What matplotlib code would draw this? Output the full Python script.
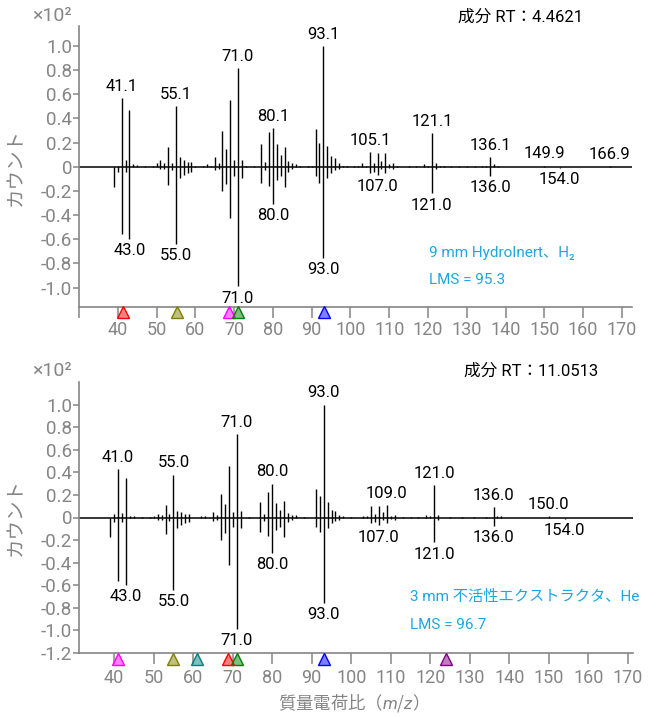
import matplotlib
matplotlib.use("Agg")
import matplotlib.pyplot as plt
import numpy as np
from matplotlib.transforms import offset_copy

plt.rcParams['font.family'] = ['Roboto', 'Noto Sans CJK JP', 'DejaVu Sans']
plt.rcParams['mathtext.fontset'] = 'custom'
plt.rcParams['mathtext.rm'] = 'Noto Sans CJK JP'
plt.rcParams['mathtext.it'] = 'Roboto:italic'

# sample spectrum, 9 mm HydroInert / H2 (x10^2 counts)
mz_top = [40, 41, 42, 43, 44, 45, 47, 49, 50, 51, 52, 53, 54, 55, 56, 57, 58, 59, 60,
          62, 63, 64, 65, 66, 67, 68, 69, 70, 71, 72, 73, 75, 77, 78, 79, 80, 81, 82,
          83, 84, 85, 86, 87, 89, 90, 91, 92, 93, 94, 95, 96, 97, 98, 99, 101, 102,
          103, 104, 105, 106, 107, 108, 109, 110, 111, 112, 115, 117, 119, 120, 121,
          122, 123, 124, 126, 128, 130, 132, 134, 135, 136, 137, 138, 150, 167]
int_top = [0.01, 0.57, 0.06, 0.47, 0.02, 0.015, 0.005, 0.005, 0.03, 0.06, 0.03, 0.16,
           0.03, 0.50, 0.08, 0.06, 0.04, 0.04, 0.005, 0.01, 0.02, 0.005, 0.08, 0.03,
           0.30, 0.15, 0.55, 0.06, 0.82, 0.06, 0.005, 0.005, 0.19, 0.04, 0.29, 0.32,
           0.19, 0.10, 0.16, 0.05, 0.03, 0.02, 0.005, 0.005, 0.005, 0.31, 0.20, 1.00,
           0.17, 0.09, 0.07, 0.03, 0.01, 0.005, 0.005, 0.01, 0.03, 0.01, 0.12, 0.03,
           0.115, 0.05, 0.115, 0.02, 0.03, 0.005, 0.005, 0.005, 0.02, 0.01, 0.28,
           0.03, 0.01, 0.005, 0.005, 0.005, 0.005, 0.005, 0.005, 0.01, 0.077, 0.02,
           0.01, 0.01, 0.005]

# sample spectrum, 3 mm inert extractor / He
mz_bot = [40, 41, 42, 43, 44, 45, 47, 49, 50, 51, 52, 53, 54, 55, 56, 57, 58, 59, 62,
          63, 65, 66, 67, 68, 69, 70, 71, 72, 74, 77, 78, 79, 80, 81, 82, 83, 84, 85,
          86, 88, 91, 92, 93, 94, 95, 96, 97, 98, 100, 103, 104, 105, 106, 107, 108,
          109, 110, 111, 113, 115, 117, 119, 120, 121, 122, 125, 128, 131, 134, 136,
          137, 138, 150]
int_bot = [0.03, 0.43, 0.04, 0.35, 0.015, 0.01, 0.005, 0.005, 0.01, 0.03, 0.02, 0.11,
           0.03, 0.38, 0.06, 0.05, 0.03, 0.03, 0.01, 0.01, 0.05, 0.02, 0.21, 0.12,
           0.455, 0.05, 0.74, 0.055, 0.005, 0.135, 0.03, 0.23, 0.30, 0.13, 0.07, 0.145,
           0.04, 0.02, 0.02, 0.005, 0.25, 0.19, 1.00, 0.14, 0.07, 0.06, 0.02, 0.01,
           0.005, 0.01, 0.01, 0.10, 0.03, 0.10, 0.05, 0.11, 0.01, 0.02, 0.005, 0.005,
           0.005, 0.02, 0.01, 0.29, 0.02, 0.005, 0.005, 0.005, 0.005, 0.09, 0.01,
           0.01, 0.01]

# library spectrum (drawn downwards in both panels)
mz_lib = [39, 40, 41, 42, 43, 51, 52, 53, 54, 55, 56, 57, 58, 59, 65, 66, 67, 68, 69,
          70, 71, 72, 77, 78, 79, 80, 81, 82, 83, 84, 85, 91, 92, 93, 94, 95, 96, 97,
          105, 106, 107, 108, 109, 110, 111, 121, 122, 136, 154]
int_lib = [0.17, 0.04, 0.56, 0.04, 0.60, 0.02, 0.02, 0.15, 0.03, 0.64, 0.09, 0.07,
           0.05, 0.04, 0.03, 0.02, 0.20, 0.14, 0.42, 0.08, 0.99, 0.09, 0.13, 0.03,
           0.16, 0.31, 0.11, 0.08, 0.17, 0.04, 0.02, 0.08, 0.13, 0.755, 0.09, 0.05,
           0.03, 0.02, 0.05, 0.04, 0.07, 0.02, 0.05, 0.01, 0.02, 0.22, 0.02, 0.075,
           0.01]

labels_top = ['41.1', '55.1', '71.0', '80.1', '93.1', '105.1', '121.1', '136.1', '149.9', '166.9']
labels_bot = ['41.0', '55.0', '71.0', '80.0', '93.0', '109.0', '121.0', '136.0', '150.0']
labels_lib = ['43.0', '55.0', '71.0', '80.0', '93.0', '107.0', '121.0', '136.0', '154.0']

markers_top = [41.3, 55.3, 68.8, 71.0, 93.3]
mcolors_top = ['red', 'olive', 'magenta', 'green', 'blue']
markers_bot = [41.0, 55.0, 61.0, 68.8, 71.0, 93.0, 124.0]
mcolors_bot = ['magenta', 'olive', 'teal', 'red', 'green', 'blue', 'purple']

GRAY = '#858585'
BLUE = '#1ea5e3'
FS = 12

fig = plt.figure(figsize=(6.59, 7.17), dpi=100)


def draw_panel(ax, mz, inten, labels, mk, mk_colors, xlim, ylim, yticks, xticks, xpad):
    ax.vlines(mz, 0, inten, colors='black', lw=1.0)
    ax.vlines(mz_lib, 0, -np.array(int_lib), colors='black', lw=1.0)
    ax.axhline(0, color='black', lw=1.1)

    up = dict(zip(mz, inten))
    down = dict(zip(mz_lib, int_lib))
    for lab in labels:
        m = float(lab)
        ax.annotate(lab, (m, up.get(round(m), 0)), xytext=(0, 3), textcoords='offset points',
                    ha='center', va='bottom', fontsize=FS)
    for lab in labels_lib:
        m = float(lab)
        ax.annotate(lab, (m, -down.get(round(m), 0)), xytext=(0, -3), textcoords='offset points',
                    ha='center', va='top', fontsize=FS)

    # component markers just under the x axis
    tr = offset_copy(ax.get_xaxis_transform(), fig=fig, y=-5.5, units='dots')
    for m, c in zip(mk, mk_colors):
        ax.plot([m], [0], marker='^', ms=8, color=c, alpha=0.5, mec='none',
                transform=tr, clip_on=False, zorder=5)
        ax.plot([m], [0], marker='^', ms=8, mfc='none', mec=c, mew=1,
                transform=tr, clip_on=False, zorder=6)

    ax.set_xlim(*xlim)
    ax.set_ylim(*ylim)
    ax.set_xticks(xticks)
    ax.set_xticklabels(['' if t < 40 else str(t) for t in xticks])
    ax.set_yticks(yticks)
    ax.set_yticklabels(['0' if abs(t) < 1e-9 else f'{t:.1f}' for t in yticks])
    for s in ['top', 'right']:
        ax.spines[s].set_visible(False)
    for s in ['left', 'bottom']:
        ax.spines[s].set_color(GRAY)
        ax.spines[s].set_linewidth(1.2)
    ax.tick_params(axis='x', direction='out', length=8, width=1.1, color=GRAY,
                   labelcolor=GRAY, labelsize=13, pad=xpad)
    ax.tick_params(axis='y', direction='out', length=4, width=1.1, color=GRAY,
                   labelcolor=GRAY, labelsize=13.5, pad=1)
    ax.set_ylabel('カウント', color=GRAY, fontsize=14)
    ax.yaxis.set_label_coords(-0.098, 0.5)


ax1 = fig.add_axes([79 / 659, 1 - 307 / 717, 553 / 659, 281 / 717])
draw_panel(ax1, mz_top, int_top, labels_top, markers_top, mcolors_top,
           (30, 172.6), (-1.16, 1.165), np.round(np.arange(-1.0, 1.01, 0.2), 1),
           list(range(30, 171, 10)), 2)

ax2 = fig.add_axes([79 / 659, 1 - 653 / 717, 554 / 659, 271 / 717])
draw_panel(ax2, mz_bot, int_bot, labels_bot, markers_bot, mcolors_bot,
           (31.1, 171.3), (-1.2, 1.2), np.round(np.arange(-1.2, 1.01, 0.2), 1),
           list(range(40, 171, 10)), 3.5)

# headers and notes
fig.text(72 / 659, 1 - 16 / 717, '×10²', ha='right', va='center', color=GRAY, fontsize=14)
fig.text(72 / 659, 1 - 371 / 717, '×10²', ha='right', va='center', color=GRAY, fontsize=14)
fig.text(583 / 659, 1 - 17 / 717, '成分 RT：4.4621', ha='right', va='center', fontsize=FS)
fig.text(598 / 659, 1 - 371 / 717, '成分 RT：11.0513', ha='right', va='center', fontsize=FS)

fig.text(429 / 659, 1 - 253 / 717, '9 mm HydroInert、H₂', ha='left', va='center',
         color=BLUE, fontsize=11)
fig.text(429 / 659, 1 - 280 / 717, 'LMS = 95.3', ha='left', va='center', color=BLUE, fontsize=11)
fig.text(410 / 659, 1 - 597 / 717, '3 mm 不活性エクストラクタ、He', ha='left', va='center',
         color=BLUE, fontsize=11)
fig.text(410 / 659, 1 - 625 / 717, 'LMS = 96.7', ha='left', va='center', color=BLUE, fontsize=11)

fig.text(349 / 659, 1 - 703 / 717, '質量電荷比（$m/z$）', ha='center', va='center',
         color=GRAY, fontsize=12.5, family='Noto Sans CJK JP')

fig.savefig('out.png', dpi=100)
